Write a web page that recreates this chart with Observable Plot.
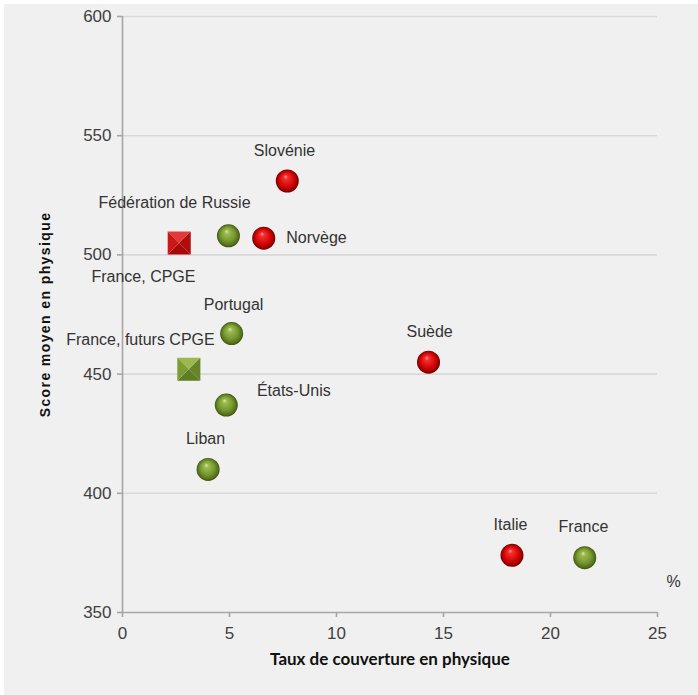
<!DOCTYPE html>
<html>
<head>
<meta charset="utf-8">
<script src="https://cdn.jsdelivr.net/npm/d3@7"></script>
<script src="https://cdn.jsdelivr.net/npm/@observablehq/plot@0.6"></script>
<style>
  html, body { margin: 0; padding: 0; background: #ffffff; }
  #chart { position: absolute; left: 4px; top: 4px; }
</style>
</head>
<body>
<div id="chart"></div>
<script>
// ---- data ----
const countries = ["Slovénie", "Fédération de Russie", "Norvège", "France, CPGE", "Portugal",
  "France, futurs CPGE", "États-Unis", "Liban", "Suède", "Italie", "France"];
const coverage = [7.7, 4.95, 6.6, 2.65, 5.1, 3.1, 4.85, 4.0, 14.3, 18.2, 21.6];
const score = [531, 508, 507, 505, 467, 452, 437, 410, 455, 374, 373];
const group = ["red", "green", "red", "red", "green", "green", "green", "green", "red", "red", "green"];
const shape = ["sphere", "sphere", "sphere", "square", "sphere", "square", "sphere", "sphere", "sphere", "sphere", "sphere"];
// label anchor points (data units)
const labelX = [7.57, 2.43, 7.65, 0.98, 5.19, 0.84, 6.28, 3.88, 14.35, 18.13, 21.54];
const labelY = [543.8, 522, 507, 490.9, 479.2, 464.5, 443.1, 423, 467.9, 386.9, 386.1];
const labelAnchor = ["middle", "middle", "start", "middle", "middle", "middle", "start", "middle", "middle", "middle", "middle"];
const xTicks = [0, 5, 10, 15, 20, 25];
const yTicks = [350, 400, 450, 500, 550, 600];
const gridY = [400, 450, 500, 550, 600];

const points = countries.map((c, i) => ({
  name: c, x: coverage[i], y: score[i], g: group[i], s: shape[i],
  lx: labelX[i], ly: labelY[i], anchor: labelAnchor[i]
}));
const spheres = points.filter(d => d.s === "sphere");
const squares = points.filter(d => d.s === "square");

// pyramid faces for the square markers
function face(which) {
  return {
    draw(ctx, size) {
      const h = Math.sqrt(size) / 2;
      const pts = {
        top: [[-h, -h], [h, -h]],
        right: [[h, -h], [h, h]],
        bottom: [[h, h], [-h, h]],
        left: [[-h, h], [-h, -h]]
      }[which];
      ctx.moveTo(pts[0][0], pts[0][1]);
      ctx.lineTo(pts[1][0], pts[1][1]);
      ctx.lineTo(0, 0);
      ctx.closePath();
    }
  };
}
const faceColors = {
  red: {top: "#e23a3a", right: "#b00c0c", bottom: "#a80808", left: "#c81818"},
  green: {top: "#9cb84e", right: "#66852a", bottom: "#5e7c24", left: "#7c9c34"}
};

function defs() {
  const d = d3.create("svg:defs");
  const mk = (id, stops) => {
    const g = d.append("radialGradient").attr("id", id)
      .attr("cx", "50%").attr("cy", "50%").attr("r", "50%").attr("fx", "42%").attr("fy", "30%");
    stops.forEach(([o, c]) => g.append("stop").attr("offset", o).attr("stop-color", c));
  };
  mk("redSphere", [[0, "#ff9a9a"], [0.18, "#f43030"], [0.6, "#d80808"], [0.88, "#a00000"], [1, "#6a0000"]]);
  mk("greenSphere", [[0, "#d8e8a0"], [0.2, "#9cb850"], [0.6, "#789a30"], [0.88, "#55721c"], [1, "#3a5010"]]);
  return d.node();
}

const squareMarks = [];
for (const side of ["top", "right", "bottom", "left"]) {
  for (const g of ["red", "green"]) {
    squareMarks.push(Plot.dot(squares.filter(d => d.g === g), {
      x: "x", y: "y", r: 13, symbol: face(side), fill: faceColors[g][side], stroke: "none"
    }));
  }
}

const chart = Plot.plot({
  width: 694,
  height: 691,
  marginLeft: 118,
  marginRight: 41,
  marginTop: 12,
  marginBottom: 83,
  style: {background: "#f0f0f0", fontFamily: "'Liberation Sans', Arial, sans-serif", fontSize: "17px", color: "#404040"},
  x: {domain: [0, 25]},
  y: {domain: [350, 600]},
  marks: [
    defs,
    Plot.ruleY(gridY, {stroke: "#d9d9d9", strokeWidth: 1.6}),
    Plot.ruleX([0], {stroke: "#a6a6a6", strokeWidth: 1.6}),
    Plot.ruleY([350], {stroke: "#a6a6a6", strokeWidth: 1.6}),
    Plot.axisY({ticks: yTicks, tickSize: 5, tickPadding: 6, label: null, stroke: "#a6a6a6", strokeWidth: 1.6, fill: "#404040", fontSize: 17}),
    Plot.axisX({ticks: xTicks, tickSize: 5, tickPadding: 9, label: null, stroke: "#a6a6a6", strokeWidth: 1.6, fill: "#404040", fontSize: 17}),
    Plot.text(["Score moyen en physique"], {frameAnchor: "left", dx: -77, rotate: -90, fontWeight: "bold", fontSize: 14, fill: "#111", dy: 0,
      textAnchor: "middle", lineAnchor: "middle"}),
    Plot.text(["Taux de couverture en physique"], {frameAnchor: "bottom", dy: 52, fontWeight: "bold", fontSize: 17, fill: "#111",
      fontFamily: "Lato, 'Open Sans', sans-serif"}),
    Plot.text(["%"], {x: 25, y: 350, dx: 16, dy: -31, fontSize: 16, fill: "#333"}),
    Plot.dot(spheres.filter(d => d.g === "red"), {x: "x", y: "y", r: 11.5, fill: "url(#redSphere)"}),
    Plot.dot(spheres.filter(d => d.g === "green"), {x: "x", y: "y", r: 11.5, fill: "url(#greenSphere)"}),
    ...squareMarks,
    Plot.text(points.filter(d => d.anchor === "middle"), {x: "lx", y: "ly", text: "name", textAnchor: "middle", fontSize: 16, fill: "#333"}),
    Plot.text(points.filter(d => d.anchor === "start"), {x: "lx", y: "ly", text: "name", textAnchor: "start", fontSize: 16, fill: "#333"})
  ]
});
chart.querySelectorAll("text").forEach(t => {
  if (t.textContent === "Score moyen en physique") t.setAttribute("letter-spacing", "1.4");
});
document.getElementById("chart").appendChild(chart);
</script>
</body>
</html>
